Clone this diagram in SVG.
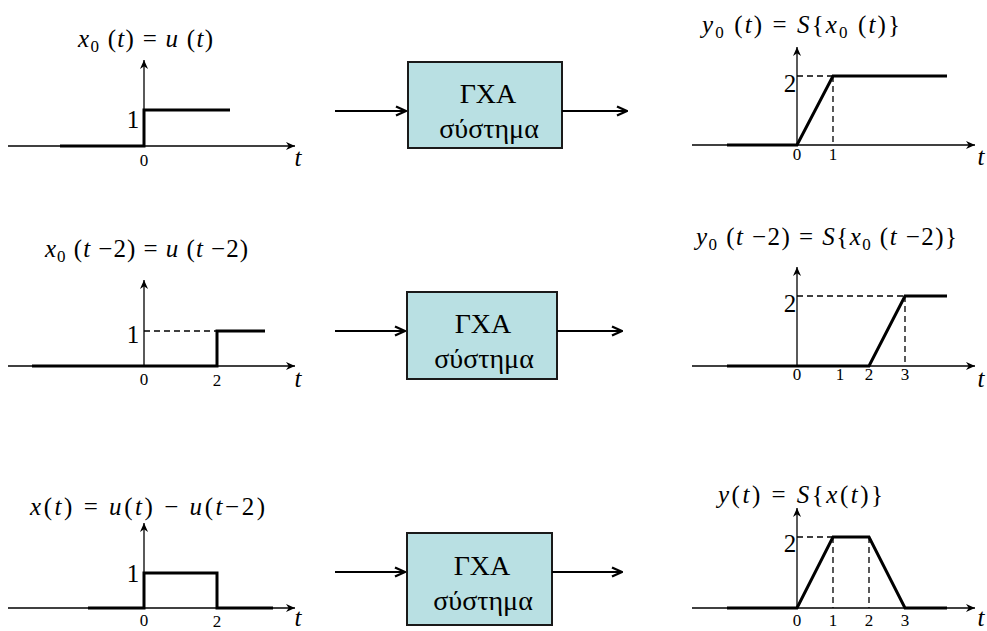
<svg xmlns="http://www.w3.org/2000/svg" width="987" height="631" viewBox="0 0 987 631" font-family="'Liberation Serif', 'Times New Roman', 'DejaVu Serif', serif">
<defs>
<marker id="ax" viewBox="0 0 10 10" refX="10" refY="5" markerWidth="9" markerHeight="9" markerUnits="userSpaceOnUse" orient="auto"><path d="M0,0.5 L10,5 L0,9.5 L3,5 z" fill="#000"/></marker>
<marker id="ar" viewBox="0 0 12 12" refX="11" refY="6" markerWidth="12" markerHeight="12" markerUnits="userSpaceOnUse" orient="auto"><path d="M1,1.5 L11,6 L1,10.5" fill="none" stroke="#000" stroke-width="2.4"/></marker>
</defs>
<style>
text{font-family:'Liberation Serif','Times New Roman','DejaVu Serif',serif;fill:#000}
.eq{font-size:25px}
.i{font-style:italic}
.sub{font-size:17px}
.big{font-size:25px;text-anchor:middle}
.bx{font-size:28px;text-anchor:middle}
.tick{font-size:17px;text-anchor:middle}
.tl{font-size:25px;font-style:italic;text-anchor:middle}
.box{fill:#B9E0E3;stroke:#1a1a1a;stroke-width:2}
.axis{stroke:#000;stroke-width:1.3;fill:none;marker-end:url(#ax)}
.sig{stroke:#000;stroke-width:3;fill:none;stroke-linejoin:miter}
.dash{stroke:#000;stroke-width:1.3;stroke-dasharray:6 4;fill:none}
.conn{stroke:#000;stroke-width:2;fill:none;marker-end:url(#ar)}
</style>
<rect width="987" height="631" fill="#fff"/>

<!-- Row 1 input plot -->
<g id="plot-x0">
<text class="eq" x="78" y="47" textLength="135" lengthAdjust="spacing"><tspan class="i">x</tspan><tspan class="sub" dy="5">0</tspan><tspan dy="-5"> (</tspan><tspan class="i">t</tspan>) = <tspan class="i">u</tspan> (<tspan class="i">t</tspan>)</text>
<line class="axis" x1="8" y1="146" x2="295" y2="146"/>
<line class="axis" x1="144" y1="146" x2="144" y2="60"/>
<polyline class="sig" points="60,146 144,146 144,110 230,110"/>
<text class="big" x="133" y="128">1</text>
<text class="tick" x="144" y="166">0</text>
<text class="tl" x="298" y="166">t</text>
</g>

<!-- Row 1 output plot -->
<g id="plot-y0">
<text class="eq" x="702" y="33" textLength="198" lengthAdjust="spacing"><tspan class="i">y</tspan><tspan class="sub" dy="5">0</tspan><tspan dy="-5"> (</tspan><tspan class="i">t</tspan>) = <tspan class="i">S</tspan>{<tspan class="i">x</tspan><tspan class="sub" dy="5">0</tspan><tspan dy="-5"> (</tspan><tspan class="i">t</tspan>)}</text>
<line class="axis" x1="692" y1="145" x2="975" y2="145"/>
<line class="axis" x1="797" y1="145" x2="797" y2="47"/>
<line class="dash" x1="797" y1="76" x2="833" y2="76"/>
<line class="dash" x1="833" y1="76" x2="833" y2="145"/>
<polyline class="sig" points="727,145 797,145 833,76 947,76"/>
<text class="big" x="790" y="92">2</text>
<text class="tick" x="797" y="160">0</text>
<text class="tick" x="833" y="160">1</text>
<text class="tl" x="981" y="165">t</text>
</g>

<!-- Row 2 input plot -->
<g id="plot-x0-shift">
<text class="eq" x="45" y="257" textLength="203" lengthAdjust="spacing"><tspan class="i">x</tspan><tspan class="sub" dy="5">0</tspan><tspan dy="-5"> (</tspan><tspan class="i">t</tspan> −2) = <tspan class="i">u</tspan> (<tspan class="i">t</tspan> −2)</text>
<line class="axis" x1="8" y1="366" x2="295" y2="366"/>
<line class="axis" x1="144" y1="366" x2="144" y2="280"/>
<line class="dash" x1="144" y1="331" x2="217" y2="331"/>
<polyline class="sig" points="32,366 217,366 217,331 265,331"/>
<text class="big" x="133" y="343">1</text>
<text class="tick" x="144" y="385">0</text>
<text class="tick" x="217" y="386">2</text>
<text class="tl" x="298" y="387">t</text>
</g>

<!-- Row 2 output plot -->
<g id="plot-y0-shift">
<text class="eq" x="696" y="245" textLength="261" lengthAdjust="spacing"><tspan class="i">y</tspan><tspan class="sub" dy="5">0</tspan><tspan dy="-5"> (</tspan><tspan class="i">t</tspan> −2) = <tspan class="i">S</tspan>{<tspan class="i">x</tspan><tspan class="sub" dy="5">0</tspan><tspan dy="-5"> (</tspan><tspan class="i">t</tspan> −2)}</text>
<line class="axis" x1="692" y1="366" x2="975" y2="366"/>
<line class="axis" x1="797" y1="366" x2="797" y2="267"/>
<line class="dash" x1="797" y1="296" x2="905" y2="296"/>
<line class="dash" x1="905" y1="296" x2="905" y2="366"/>
<polyline class="sig" points="727,366 869,366 905,296 947,296"/>
<text class="big" x="790" y="312">2</text>
<text class="tick" x="797" y="380">0</text>
<text class="tick" x="840" y="380">1</text>
<text class="tick" x="869" y="380">2</text>
<text class="tick" x="905" y="380">3</text>
<text class="tl" x="981" y="387">t</text>
</g>

<!-- Row 3 input plot -->
<g id="plot-x">
<text class="eq" x="30" y="515" textLength="235" lengthAdjust="spacing"><tspan class="i">x</tspan>(<tspan class="i">t</tspan>) = <tspan class="i">u</tspan>(<tspan class="i">t</tspan>) − <tspan class="i">u</tspan>(<tspan class="i">t</tspan>−2)</text>
<line class="axis" x1="8" y1="608" x2="295" y2="608"/>
<line class="axis" x1="144" y1="608" x2="144" y2="523"/>
<polyline class="sig" points="88,608 144,608 144,573 217,573 217,608 273,608"/>
<text class="big" x="133" y="582">1</text>
<text class="tick" x="144" y="626">0</text>
<text class="tick" x="217" y="627">2</text>
<text class="tl" x="298" y="626">t</text>
</g>

<!-- Row 3 output plot -->
<g id="plot-y">
<text class="eq" x="718" y="503" textLength="165" lengthAdjust="spacing"><tspan class="i">y</tspan>(<tspan class="i">t</tspan>) = <tspan class="i">S</tspan>{<tspan class="i">x</tspan>(<tspan class="i">t</tspan>)}</text>
<line class="axis" x1="692" y1="608" x2="975" y2="608"/>
<line class="axis" x1="797" y1="608" x2="797" y2="508"/>
<line class="dash" x1="797" y1="537" x2="833" y2="537"/>
<line class="dash" x1="833" y1="537" x2="833" y2="608"/>
<line class="dash" x1="869" y1="537" x2="869" y2="608"/>
<polyline class="sig" points="727,608 797,608 833,537 869,537 905,608 947,608"/>
<text class="big" x="790" y="552">2</text>
<text class="tick" x="797" y="626">0</text>
<text class="tick" x="833" y="626">1</text>
<text class="tick" x="869" y="626">2</text>
<text class="tick" x="905" y="626">3</text>
<text class="tl" x="981" y="626">t</text>
</g>

<!-- System boxes -->
<g id="sys1">
<rect class="box" x="408" y="62" width="154" height="86"/>
<text class="bx" x="488" y="103">ΓΧΑ</text>
<text class="bx" x="489" y="138">σύστημα</text>
</g>
<g id="sys2">
<rect class="box" x="407" y="292" width="150" height="87"/>
<text class="bx" x="483" y="333">ΓΧΑ</text>
<text class="bx" x="484" y="368">σύστημα</text>
</g>
<g id="sys3">
<rect class="box" x="407" y="533" width="145" height="92"/>
<text class="bx" x="482" y="575">ΓΧΑ</text>
<text class="bx" x="483" y="610">σύστημα</text>
</g>

<!-- Connectors -->
<g id="connectors">
<line class="conn" x1="335" y1="111" x2="406" y2="111"/>
<line class="conn" x1="562" y1="111" x2="627" y2="111"/>
<line class="conn" x1="335" y1="331" x2="405" y2="331"/>
<line class="conn" x1="557" y1="331" x2="622" y2="331"/>
<line class="conn" x1="335" y1="572" x2="405" y2="572"/>
<line class="conn" x1="552" y1="572" x2="622" y2="572"/>
</g>
</svg>
